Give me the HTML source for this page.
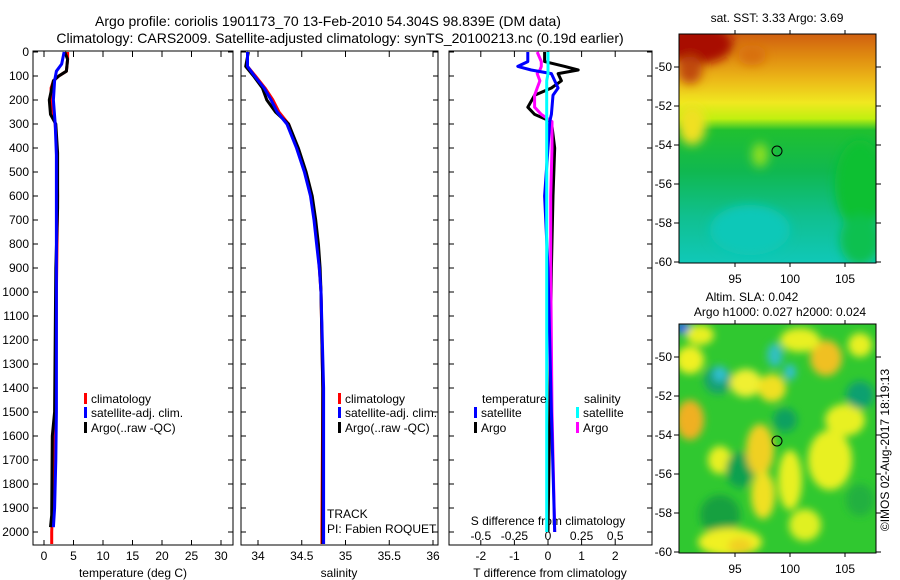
<!DOCTYPE html>
<html><head><meta charset="utf-8"><style>
body{margin:0;background:#fff;}
svg{display:block;font-family:"Liberation Sans",sans-serif;}
</style></head><body>
<svg id="fig" width="900" height="580" viewBox="0 0 900 580" xmlns="http://www.w3.org/2000/svg">
<defs>
<filter id="bl" x="-20%" y="-20%" width="140%" height="140%"><feGaussianBlur stdDeviation="5"/></filter>
<filter id="bl2" x="-50%" y="-50%" width="200%" height="200%"><feGaussianBlur stdDeviation="4"/></filter>
<clipPath id="c1"><rect x="679" y="34" width="197" height="229"/></clipPath>
<clipPath id="c2"><rect x="679" y="324" width="197" height="229"/></clipPath>
<linearGradient id="sst" x1="0" y1="0" x2="0" y2="1">
<stop offset="0" stop-color="#d06010"/><stop offset="0.1" stop-color="#e08c10"/>
<stop offset="0.2" stop-color="#ecb818"/><stop offset="0.3" stop-color="#f0e820"/>
<stop offset="0.37" stop-color="#c0f010"/><stop offset="0.42" stop-color="#20c030"/>
<stop offset="0.6" stop-color="#10b850"/><stop offset="0.8" stop-color="#10c090"/>
<stop offset="1" stop-color="#10c8b8"/>
</linearGradient>
</defs>
<g font-size="14" text-anchor="middle">
<text x="328" y="26">Argo profile: coriolis 1901173_70 13-Feb-2010 54.304S 98.839E (DM data)</text>
<text x="340" y="43">Climatology: CARS2009. Satellite-adjusted climatology: synTS_20100213.nc (0.19d earlier)</text>
</g>
<g id="plots"></g>
<g clip-path="url(#c1)">
<rect x="679" y="34" width="197" height="229" fill="url(#sst)"/>
<g filter="url(#bl)">
<ellipse cx="698" cy="44" rx="35" ry="20" fill="#a81000"/>
<ellipse cx="690" cy="70" rx="12" ry="14" fill="#c04808"/>
<ellipse cx="752" cy="55" rx="14" ry="10" fill="#d87010"/>
<ellipse cx="692" cy="125" rx="14" ry="20" fill="#f0e020"/>
<ellipse cx="860" cy="185" rx="25" ry="45" fill="#10c030"/>
<ellipse cx="760" cy="155" rx="8" ry="12" fill="#90e020"/>
<ellipse cx="750" cy="230" rx="40" ry="25" fill="#10c8b8"/>
<ellipse cx="860" cy="240" rx="20" ry="25" fill="#10c050"/>
</g>
</g>
<g clip-path="url(#c2)">
<rect x="679" y="324" width="197" height="229" fill="#30c830"/>
<g filter="url(#bl2)">
<ellipse cx="690" cy="360" rx="14" ry="14" fill="#f0f020"/>
<ellipse cx="683" cy="328" rx="8" ry="6" fill="#2060f0"/>
<ellipse cx="718" cy="380" rx="14" ry="14" fill="#18a070"/>
<ellipse cx="720" cy="374" rx="7" ry="8" fill="#30c0d0"/>
<ellipse cx="746" cy="383" rx="16" ry="14" fill="#f0f030"/>
<ellipse cx="772" cy="388" rx="14" ry="14" fill="#f0e020"/>
<ellipse cx="775" cy="355" rx="8" ry="12" fill="#30c0c0"/>
<ellipse cx="790" cy="372" rx="6" ry="8" fill="#30c0d0"/>
<ellipse cx="826" cy="358" rx="16" ry="18" fill="#f0c020"/>
<ellipse cx="800" cy="340" rx="20" ry="12" fill="#e8f020"/>
<ellipse cx="700" cy="335" rx="14" ry="10" fill="#e8f020"/>
<ellipse cx="690" cy="420" rx="14" ry="20" fill="#f0b020"/>
<ellipse cx="720" cy="460" rx="12" ry="14" fill="#e8f020"/>
<ellipse cx="785" cy="420" rx="12" ry="12" fill="#10a060"/>
<ellipse cx="740" cy="470" rx="14" ry="18" fill="#10a050"/>
<ellipse cx="760" cy="450" rx="14" ry="26" fill="#f0d020"/>
<ellipse cx="763" cy="495" rx="12" ry="24" fill="#f0e020"/>
<ellipse cx="790" cy="480" rx="12" ry="30" fill="#e8f020"/>
<ellipse cx="830" cy="460" rx="22" ry="30" fill="#e8f020"/>
<ellipse cx="845" cy="420" rx="20" ry="16" fill="#e8f020"/>
<ellipse cx="860" cy="395" rx="14" ry="14" fill="#10a070"/>
<ellipse cx="720" cy="515" rx="20" ry="20" fill="#18a040"/>
<ellipse cx="730" cy="542" rx="32" ry="14" fill="#f0f020"/>
<ellipse cx="740" cy="546" rx="12" ry="8" fill="#f0d020"/>
<ellipse cx="860" cy="345" rx="12" ry="12" fill="#e8f020"/>
<ellipse cx="805" cy="525" rx="16" ry="16" fill="#e0f020"/>
<ellipse cx="860" cy="500" rx="14" ry="16" fill="#20b040"/>
</g>
</g>
<g fill="none" stroke="#000">
<rect x="679" y="34" width="197" height="229"/>
<rect x="679" y="324" width="197" height="229"/>
</g>
<circle cx="777" cy="151" r="5" fill="none" stroke="#000"/>
<circle cx="777" cy="441" r="5" fill="none" stroke="#000"/>
<g font-size="12" text-anchor="middle">
<text x="777" y="22">sat. SST: 3.33 Argo: 3.69</text>
<text x="752" y="301">Altim. SLA: 0.042</text>
<text x="780" y="316">Argo h1000: 0.027 h2000: 0.024</text>
<text transform="translate(889,450) rotate(-90)">©IMOS 02-Aug-2017 18:19:13</text>
</g>
<g id="maps"></g>
</svg>
<script>
const depthT=[0,30,80,100,120,150,200,300,400,600,1000,1500,1800,2000,2050];
const tempClim=[4.0,4.0,3.8,2.5,1.6,1.2,1.2,1.9,2.2,2.3,2.1,2.0,1.6,1.3,1.3];
const depthA=[0,30,80,100,120,200,260,300,420,650,900,1500,1600,1930,1980];
const tempArgo=[3.5,4.0,3.8,2.5,1.6,0.9,1.1,2.0,2.3,2.3,2.0,1.8,1.4,1.3,1.1];
const depthS=[0,50,80,120,200,300,430,1000,1500,1700,1900,1980];
const tempSat=[3.4,3.0,2.1,1.8,1.6,1.9,2.1,2.1,2.1,2.0,1.8,1.6];
const depthSal=[0,60,100,150,200,250,300,400,500,600,700,800,900,1000,1400,2000,2050];
const salClim=[33.88,33.88,33.97,34.08,34.17,34.24,34.35,34.45,34.54,34.61,34.65,34.68,34.7,34.72,34.74,34.73,34.73];
const salSat=[33.88,33.88,33.96,34.07,34.15,34.22,34.33,34.44,34.53,34.6,34.64,34.67,34.7,34.72,34.75,34.75,34.75];
const salArgo=[33.89,33.86,33.95,34.05,34.1,34.2,34.35,34.46,34.55,34.62,34.66,34.69,34.71,34.72,34.74,34.74,34.74];
const depthD=[0,40,60,75,90,120,150,180,230,260,290,400,600,900,1500,2000];
const dTSat=[-0.6,-0.6,-0.9,-0.5,0.1,0.2,0.3,0.15,0.12,0.1,0.05,0.0,-0.1,0.0,0.1,0.2];
const dTArgo=[-0.1,-0.1,0.5,0.9,0.3,0.4,0.1,-0.4,-0.6,-0.4,0.1,0.2,0.15,0.1,0.05,0.0];
const dSSat=[0.0,0.0,0.0,0.0,0.0,-0.01,-0.01,-0.01,-0.01,-0.01,-0.01,-0.01,-0.01,-0.01,-0.01,-0.01];
const dSArgo=[-0.08,-0.05,-0.05,-0.06,-0.08,-0.06,-0.08,-0.1,-0.1,-0.05,0.03,0.03,0.02,0.02,0.03,0.05];
const depthTicks=[0,100,200,300,400,500,600,700,800,900,1000,1100,1200,1300,1400,1500,1600,1700,1800,1900,2000];
const tempTicks=[0,5,10,15,20,25,30];
const salTicks=[34,34.5,35,35.5,36];
const salTickLabels=["34","34.5","35","35.5","36"];
const dTTicks=[-2,-1,0,1,2];
const dSTicks=[-0.5,-0.25,0,0.25,0.5];
const dSTickLabels=["-0.5","-0.25","0","0.25","0.5"];
const latTicks=[-50,-52,-54,-56,-58,-60];
const lonTicks=[95,100,105];

const NS='http://www.w3.org/2000/svg';
const g=document.getElementById('plots');
const mg=document.getElementById('maps');
function mk(tag,attrs,parent,txt){const e=document.createElementNS(NS,tag);for(const k in attrs)e.setAttribute(k,attrs[k]);if(txt!==undefined)e.textContent=txt;(parent||g).appendChild(e);return e;}
const TOP=52,BOT=545;
const yD=d=>TOP+d*0.24;
const xT=v=>44+v*5.9;
const xS=v=>258+(v-34)*87.5;
const xDT=v=>548+v*33.6;
const xDS=v=>548+v*134.4;
const panels=[{x0:33,x1:233,name:'temperature-panel'},{x0:241,x1:438,name:'salinity-panel'},{x0:449,x1:652,name:'difference-panel'}];

panels.forEach((p,i)=>{
  const r=mk('rect',{x:p.x0,y:TOP-1,width:p.x1-p.x0,height:BOT-TOP+1,fill:'none',stroke:'#000'});
  
  
  depthTicks.forEach(d=>{
    mk('line',{x1:p.x0,x2:p.x0+5,y1:yD(d),y2:yD(d),stroke:'#000'});
    mk('line',{x1:p.x1,x2:p.x1-5,y1:yD(d),y2:yD(d),stroke:'#000'});
  });
});
depthTicks.forEach(d=>{
  const t=mk('text',{x:29,y:yD(d)+4,'font-size':12,'text-anchor':'end'},g,String(d));
  
  
});
function xticks(vals,labels,fx,p){
  vals.forEach((v,i)=>{
    const x=fx(v);
    mk('line',{x1:x,x2:x,y1:TOP-1,y2:TOP+5,stroke:'#000'});
    mk('line',{x1:x,x2:x,y1:BOT,y2:BOT-5,stroke:'#000'});
    const t=mk('text',{x:x,y:560,'font-size':12,'text-anchor':'middle'},g,labels[i]);
    
    
  });
}
xticks(tempTicks,tempTicks.map(String),xT);
xticks(salTicks,salTickLabels,xS);
xticks(dTTicks,dTTicks.map(String),xDT);
dSTicks.forEach((v,i)=>{
  const t=mk('text',{x:xDS(v),y:540,'font-size':12,'text-anchor':'middle'},g,dSTickLabels[i]);
  
  
});
[['temperature (deg C)',133,'temperature-axis-title'],['salinity',339,'salinity-axis-title'],['T difference from climatology',550,'t-diff-axis-title']].forEach(a=>{
  const t=mk('text',{x:a[1],y:577,'font-size':12,'text-anchor':'middle'},g,a[0]);
  
  
});
const st=mk('text',{x:548,y:525,'font-size':12,'text-anchor':'middle'},g,'S difference from climatology');



function line(ds,vs,fx,col,name){
  const pts=ds.map((d,i)=>fx(vs[i]).toFixed(1)+','+yD(d).toFixed(1)).join(' ');
  const l=mk('polyline',{points:pts,fill:'none',stroke:col,'stroke-width':3,'stroke-linejoin':'round'});
  
  
}
line(depthT,tempClim,xT,'#ff0000','temp-climatology-line');
line(depthA,tempArgo,xT,'#000000','temp-argo-line');
line(depthS,tempSat,xT,'#0000ff','temp-satellite-line');
line(depthSal,salClim,xS,'#ff0000','sal-climatology-line');
line(depthSal,salArgo,xS,'#000000','sal-argo-line');
line(depthSal,salSat,xS,'#0000ff','sal-satellite-line');
line(depthD,dTArgo,xDT,'#000000','tdiff-argo-line');
line(depthD,dSArgo,xDS,'#ff00ff','sdiff-argo-line');
line(depthD,dTSat,xDT,'#0000ff','tdiff-satellite-line');
line(depthD,dSSat,xDS,'#00ffff','sdiff-satellite-line');

function legend(x,y,col,label,name){
  const e=mk('rect',{x:x,y:y-9,width:3,height:11,fill:col});
  
  
  const t=mk('text',{x:x+7,y:y+1,'font-size':12},g,label);
  
  
}
[[84,'temp'],[338,'sal']].forEach(a=>{
  legend(a[0],402,'#ff0000','climatology',a[1]+'-legend-climatology');
  legend(a[0],416,'#0000ff','satellite-adj. clim.',a[1]+'-legend-satellite');
  legend(a[0],431,'#000000','Argo(..raw -QC)',a[1]+'-legend-argo');
});
const lt=mk('text',{x:482,y:403,'font-size':12},g,'temperature');


const ls=mk('text',{x:584,y:403,'font-size':12},g,'salinity');


legend(474,416,'#0000ff','satellite','diff-legend-t-satellite');
legend(474,431,'#000000','Argo','diff-legend-t-argo');
legend(576,416,'#00ffff','satellite','diff-legend-s-satellite');
legend(576,431,'#ff00ff','Argo','diff-legend-s-argo');
const tr=mk('text',{x:327,y:518,'font-size':12},g,'TRACK');


const pi=mk('text',{x:327,y:533,'font-size':12},g,'PI: Fabien ROQUET');



// map axes
const xLon=v=>735+(v-95)*11;
[[67,19.5,34,263],[357,19.5,324,553]].forEach((m,k)=>{
  const yLat=v=>m[0]+(-50-v)*m[1];
  latTicks.forEach(v=>{
    mk('line',{x1:679,x2:674,y1:yLat(v),y2:yLat(v),stroke:'#000'},mg);
    mk('line',{x1:876,x2:881,y1:yLat(v),y2:yLat(v),stroke:'#000'},mg);
    const t=mk('text',{x:672,y:yLat(v)+4,'font-size':12,'text-anchor':'end'},mg,String(v));
    
    
  });
  lonTicks.forEach(v=>{
    mk('line',{x1:xLon(v),x2:xLon(v),y1:m[2],y2:m[2]-4,stroke:'#000'},mg);
    mk('line',{x1:xLon(v),x2:xLon(v),y1:m[3],y2:m[3]+4,stroke:'#000'},mg);
    const t=mk('text',{x:xLon(v),y:m[3]+20,'font-size':12,'text-anchor':'middle'},mg,String(v));
    
    
  });
});
</script>
</body></html>
